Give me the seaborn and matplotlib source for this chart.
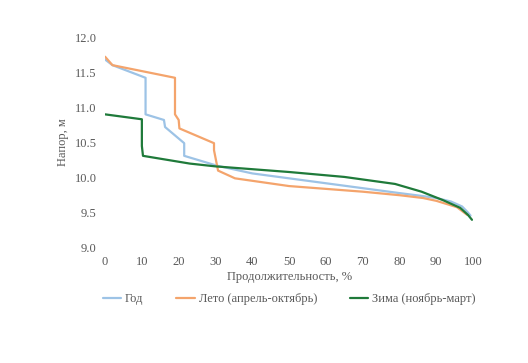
import numpy as np
import pandas as pd
import matplotlib
matplotlib.use("Agg")
import matplotlib.pyplot as plt
import seaborn as sns

# Duration curves
year_x = [0, 2, 11, 11, 16, 16.3, 21.5, 21.5, 30.4, 40, 50, 60, 70, 80, 86, 90, 94, 97, 98.5, 99.3]
year_y = [11.68, 11.6, 11.42, 10.9, 10.82, 10.72, 10.49, 10.31, 10.17, 10.06, 9.99, 9.92, 9.85, 9.78, 9.74, 9.71, 9.66, 9.59, 9.51, 9.46]

summer_x = [0, 2, 19, 19, 20, 20.2, 29.6, 29.6, 30.7, 35.3, 50, 60, 70, 80, 86.4, 90, 95.6, 98.4]
summer_y = [11.72, 11.6, 11.42, 10.9, 10.82, 10.7, 10.49, 10.39, 10.1, 9.99, 9.88, 9.84, 9.8, 9.75, 9.71, 9.67, 9.58, 9.47]

winter_x = [0, 10, 10, 10.3, 23, 30, 50, 65, 78.8, 86, 91.8, 96.5, 98.6, 99.7]
winter_y = [10.9, 10.83, 10.45, 10.31, 10.2, 10.16, 10.08, 10.01, 9.91, 9.8, 9.68, 9.57, 9.47, 9.4]

labels = ["Год", "Лето (апрель-октябрь)", "Зима (ноябрь-март)"]
colors = ["#9DC3E6", "#F4A46C", "#1F7A3A"]

frames = []
for name, xs, ys in zip(labels, [year_x, summer_x, winter_x], [year_y, summer_y, winter_y]):
    frames.append(pd.DataFrame({"x": xs, "y": ys, "series": name}))
df = pd.concat(frames, ignore_index=True)

sns.set_theme(style="white")
plt.rcParams["font.family"] = ["Liberation Serif", "DejaVu Serif"]

fig = plt.figure(figsize=(5.28, 3.63), dpi=100)
ax = fig.add_axes([0.199, 0.317, 0.697, 0.581])

sns.lineplot(data=df, x="x", y="y", hue="series", hue_order=labels,
             palette=colors, sort=False, estimator=None, units="series",
             linewidth=1.6, ax=ax, legend=True)

ax.set_xlim(0, 100)
ax.set_ylim(9.0, 12.0)
ax.set_xticks(np.arange(0, 101, 10))
ax.set_yticks(np.arange(9.0, 12.01, 0.5))
ax.set_yticklabels([f"{v:.1f}" for v in np.arange(9.0, 12.01, 0.5)])
ax.tick_params(axis="both", labelsize=9, colors="#595959", length=0, pad=6)
for s in ax.spines.values():
    s.set_visible(False)

ax.set_xlabel("Продолжительность, %", fontsize=9, color="#595959", labelpad=2)
ax.set_ylabel("Напор, м", fontsize=9, color="#595959", labelpad=4)

handles, lbls = ax.get_legend_handles_labels()
ax.legend(handles, lbls, loc="upper center", bbox_to_anchor=(0.5, -0.16), ncol=3,
          frameon=False, fontsize=9, handlelength=1.5, handletextpad=0.3,
          columnspacing=2.6, labelcolor="#595959")

fig.savefig("out.png", dpi=100, facecolor="white")
